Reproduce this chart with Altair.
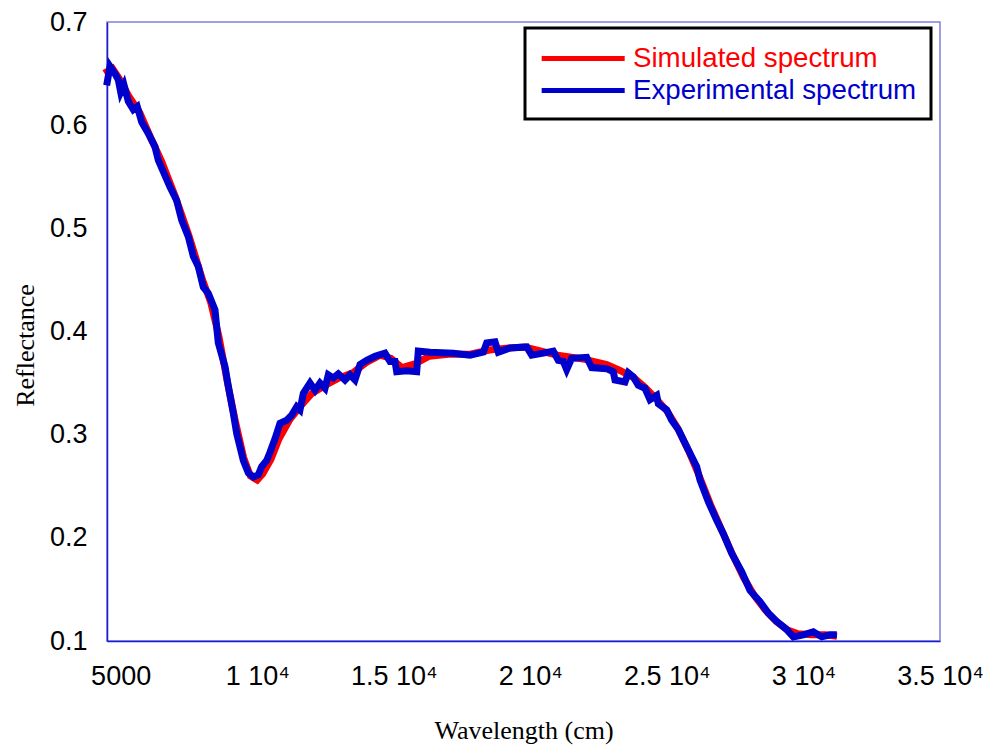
import altair as alt
import pandas as pd

# Simulated reflectance spectrum (smooth model curve)
sim_wl = [4510, 4700, 5000, 5300, 5700, 6100, 6500, 7000, 7500, 8000,
          8300, 8600, 8900, 9200, 9500, 9750, 10000, 10200, 10500, 10800,
          11200, 11600, 12000, 12500, 13000, 13500, 14000, 14500, 14900, 15300,
          15800, 16300, 17000, 17800, 18500, 19200, 19800, 20400, 21000, 21500,
          22000, 22800, 23300, 23800, 24200, 24600, 25000, 25400, 25800, 26200,
          26600, 27000, 27400, 27800, 28200, 28600, 29000, 29400, 29800, 30300,
          30800, 31100]
sim_refl = [0.652, 0.655, 0.643, 0.628, 0.612, 0.588, 0.565, 0.531, 0.493, 0.450,
            0.428, 0.395, 0.352, 0.313, 0.278, 0.260, 0.256, 0.262, 0.276, 0.296,
            0.315, 0.328, 0.340, 0.348, 0.355, 0.360, 0.370, 0.377, 0.374, 0.365,
            0.369, 0.376, 0.378, 0.378, 0.382, 0.384, 0.385, 0.381, 0.377, 0.375,
            0.373, 0.368, 0.362, 0.355, 0.346, 0.335, 0.323, 0.306, 0.284, 0.259,
            0.232, 0.208, 0.184, 0.162, 0.144, 0.130, 0.119, 0.111, 0.107, 0.106,
            0.106, 0.105]

# Measured reflectance spectrum
exp_wl = [4510, 4610, 4790, 4914, 5002, 5122, 5280, 5463, 5609, 5771,
          6012, 6258, 6378, 6561, 6807, 7052, 7235, 7477, 7660, 7843,
          8026, 8209, 8454, 8575, 8820, 8941, 9124, 9249, 9491, 9674,
          9857, 10040, 10164, 10347, 10468, 10651, 10834, 11080, 11263, 11446,
          11567, 11688, 11933, 12116, 12299, 12482, 12603, 12786, 12969, 13214,
          13397, 13580, 13764, 14009, 14313, 14679, 14862, 15045, 15107, 15473,
          15839, 15898, 16327, 17180, 17791, 18278, 18402, 18706, 18827, 19256,
          19867, 20050, 20475, 20841, 21024, 21207, 21331, 21514, 22064, 22247,
          22796, 23038, 23100, 23466, 23587, 23770, 23953, 24199, 24382, 24627,
          24686, 24993, 25176, 25418, 25601, 25846, 26092, 26213, 26517, 26824,
          27066, 27373, 27740, 28043, 28410, 28714, 29021, 29387, 29629, 29995,
          30361, 30669, 30973, 31094]
exp_refl = [0.642, 0.657, 0.650, 0.644, 0.632, 0.639, 0.623, 0.615, 0.618, 0.603,
            0.592, 0.579, 0.566, 0.555, 0.540, 0.527, 0.508, 0.492, 0.473, 0.463,
            0.443, 0.437, 0.421, 0.389, 0.366, 0.347, 0.321, 0.301, 0.275, 0.263,
            0.259, 0.261, 0.269, 0.275, 0.283, 0.296, 0.311, 0.314, 0.319, 0.327,
            0.324, 0.340, 0.350, 0.343, 0.350, 0.345, 0.358, 0.355, 0.359, 0.353,
            0.358, 0.353, 0.368, 0.372, 0.376, 0.379, 0.371, 0.371, 0.361, 0.362,
            0.361, 0.381, 0.380, 0.379, 0.377, 0.380, 0.389, 0.390, 0.380, 0.384,
            0.385, 0.377, 0.379, 0.381, 0.372, 0.371, 0.363, 0.374, 0.375, 0.365,
            0.364, 0.361, 0.353, 0.351, 0.360, 0.356, 0.348, 0.345, 0.334, 0.338,
            0.330, 0.324, 0.314, 0.305, 0.295, 0.282, 0.269, 0.256, 0.235, 0.217,
            0.204, 0.185, 0.167, 0.149, 0.138, 0.127, 0.119, 0.111, 0.104, 0.106,
            0.109, 0.104, 0.106, 0.106]

series_names = ["Simulated spectrum", "Experimental spectrum"]
series_colors = ["#ff0000", "#0000cc"]
x_ticks = [5000, 10000, 15000, 20000, 25000, 30000, 35000]
y_ticks = [0.1, 0.2, 0.3, 0.4, 0.5, 0.6, 0.7]

sim = pd.DataFrame({"wavelength": sim_wl, "reflectance": sim_refl, "series": series_names[0]})
exp = pd.DataFrame({"wavelength": exp_wl, "reflectance": exp_refl, "series": series_names[1]})

W, H = 833, 619

x_enc = alt.X(
    "wavelength:Q",
    scale=alt.Scale(domain=[4500, 35000], nice=False, zero=False),
    axis=alt.Axis(
        values=x_ticks,
        labelExpr="datum.value == 5000 ? '5000' : (datum.value / 10000) + ' 10\u2074'",
        labelFlush=False,
        labelOverlap=False,
        title="Wavelength (cm)",
        titleX=W / 2,
        titleY=97,
        titleAlign="center",
        titleBaseline="alphabetic",
        labelPadding=22,
    ),
)
y_enc = alt.Y(
    "reflectance:Q",
    scale=alt.Scale(domain=[0.1, 0.7], nice=False, zero=False),
    axis=alt.Axis(
        values=y_ticks,
        format=".1f",
        labelFlush=False,
        labelOverlap=False,
        title="Reflectance",
        titleX=-74,
        titleY=323,
        titleAlign="center",
        titleBaseline="alphabetic",
        labelPadding=20,
    ),
)
color_enc = alt.Color(
    "series:N",
    scale=alt.Scale(domain=series_names, range=series_colors),
    legend=alt.Legend(
        title=None,
        orient="none",
        legendX=418,
        legendY=6,
        symbolType="M-1,0H5",
        symbolSize=766,
        symbolStrokeWidth=5,
        labelOffset=61,
        labelFont="Liberation Sans",
        labelFontSize=27.7,
        labelLimit=500,
        labelColor={"expr": "datum.label === 'Simulated spectrum' ? '#ff0000' : '#0000cc'"},
        padding=14,
        rowPadding=1,
        strokeColor="#000000",
        fillColor="#ffffff",
    ),
)

sim_line = alt.Chart(sim).mark_line(strokeWidth=7, strokeJoin="miter", strokeCap="square").encode(
    x=x_enc, y=y_enc, color=color_enc
)
exp_line = alt.Chart(exp).mark_line(strokeWidth=7, strokeJoin="miter", strokeCap="square").encode(
    x=x_enc, y=y_enc, color=color_enc
)

chart = (
    alt.layer(sim_line, exp_line)
    .properties(
        width=W,
        height=H,
        autosize=alt.AutoSizeParams(type="none"),
        padding={"left": 107, "top": 22, "right": 49, "bottom": 106},
        background="#ffffff",
    )
    .configure_view(stroke="#8080e0", strokeWidth=1.5)
    .configure_legend(strokeWidth=3)
    .configure_axis(
        grid=False,
        ticks=False,
        domainColor="#1a1ad0",
        domainWidth=1.5,
        labelFont="Liberation Sans",
        labelFontSize=27,
        labelColor="#000000",
        titleFont="Liberation Serif",
        titleFontSize=26,
        titleFontWeight="normal",
        titleColor="#000000",
    )
)

chart.save("out.html", embed_options={"renderer": "svg", "actions": False})
